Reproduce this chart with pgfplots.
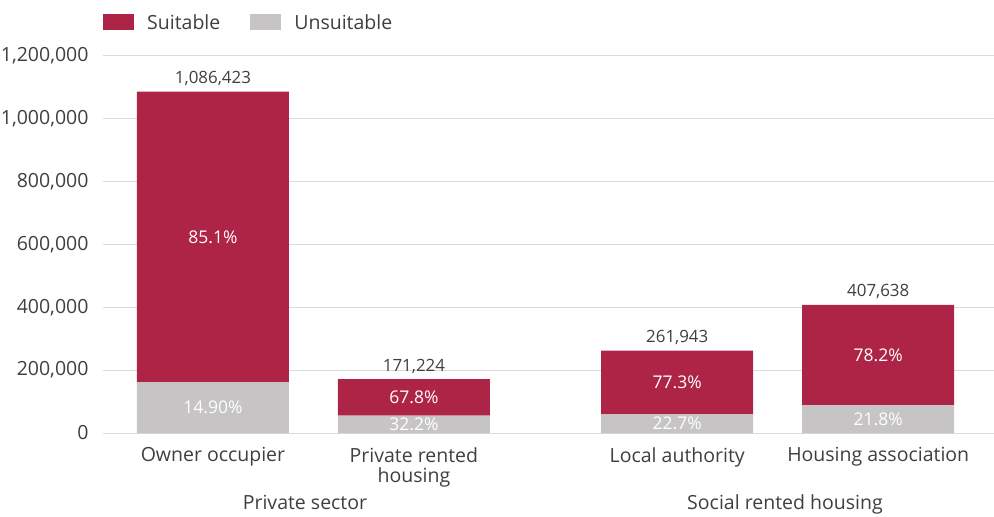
\documentclass[border=0pt]{standalone}
\usepackage{fontspec}
\setmainfont{Open Sans}
\usepackage{pgfplots}
\pgfplotsset{compat=1.18}
\definecolor{suit}{HTML}{AE2446}
\definecolor{unsuit}{HTML}{C6C4C5}
\definecolor{txt}{HTML}{3F3F3F}
\definecolor{gridc}{HTML}{DADADA}
\tikzset{
  pct/.style={font=\fontsize{17.5}{20}\selectfont, text=white},
  tot/.style={font=\fontsize{16.9}{19}\selectfont, text=txt, anchor=base, yshift=8pt},
  grp/.style={font=\fontsize{19.5}{21}\selectfont, text=txt, anchor=base, yshift=-76pt},
}

\begin{document}
\begin{tikzpicture}
\useasboundingbox (0pt,0pt) rectangle (994pt,517pt);
\begin{axis}[
  at={(103pt,84pt)}, anchor=south west,
  width=891pt, height=377pt, scale only axis,
  xmin=-0.547, xmax=3.886, ymin=0, ymax=1200000,
  clip=false,
  ybar stacked, bar width=152pt,
  axis line style={draw=none},
  tick style={draw=none},
  ymajorgrids, grid style={color=gridc, line width=1pt},
  scaled y ticks=false,
  ytick={0,200000,400000,600000,800000,1000000,1200000},
  yticklabels={0,{200,000},{400,000},{600,000},{800,000},{1,000,000},{1,200,000}},
  yticklabel style={font=\fontsize{19.5}{21}\selectfont, text=txt, xshift=-11pt},
  xtick={0,1,2.31,3.31},
  xticklabels={Owner occupier,{Private rented\\housing},Local authority,Housing association},
  xticklabel style={font=\fontsize{19.5}{20}\selectfont, text=txt, align=center, anchor=north, inner sep=0pt, yshift=-14pt},
  legend columns=2,
  reverse legend,
  legend style={at={(rel axis cs:0,1)}, anchor=west, yshift=33.5pt, draw=none, fill=none, inner sep=0pt,
    font=\fontsize{19.5}{21}\selectfont, text=txt,
    /tikz/every odd column/.append style={column sep=11pt},
    /tikz/every even column/.append style={column sep=28pt}},
  legend image code/.code={\fill[#1] (0pt,-8pt) rectangle (31pt,8pt);},
]
\addplot[fill=unsuit, draw=none] coordinates {(0,161877) (1,55134) (2.31,59461) (3.31,88865)};
\addplot[fill=suit, draw=none] coordinates {(0,924546) (1,116090) (2.31,202482) (3.31,318773)};
\legend{Unsuitable, Suitable}

\coordinate (u1) at (axis cs:0,80938);
\coordinate (s1) at (axis cs:0,624150);
\coordinate (u2) at (axis cs:1,27567);
\coordinate (s2) at (axis cs:1,113179);
\coordinate (u3) at (axis cs:2.31,29730);
\coordinate (s3) at (axis cs:2.31,160702);
\coordinate (u4) at (axis cs:3.31,44432);
\coordinate (s4) at (axis cs:3.31,248251);
\node[tot] at (axis cs:0,1086423) {1,086,423};
\node[tot] at (axis cs:1,171224) {171,224};
\node[tot] at (axis cs:2.31,261943) {261,943};
\node[tot] at (axis cs:3.31,407638) {407,638};
\node[grp] at (axis cs:0.458,0) {Private sector};
\node[grp] at (axis cs:2.846,0) {Social rented housing};
\end{axis}
\node[pct] at (u1) {14.90\%};
\node[pct] at (s1) {85.1\%};
\node[pct] at (u2) {32.2\%};
\node[pct] at (s2) {67.8\%};
\node[pct] at (u3) {22.7\%};
\node[pct] at (s3) {77.3\%};
\node[pct] at (u4) {21.8\%};
\node[pct] at (s4) {78.2\%};
\end{tikzpicture}
\end{document}
